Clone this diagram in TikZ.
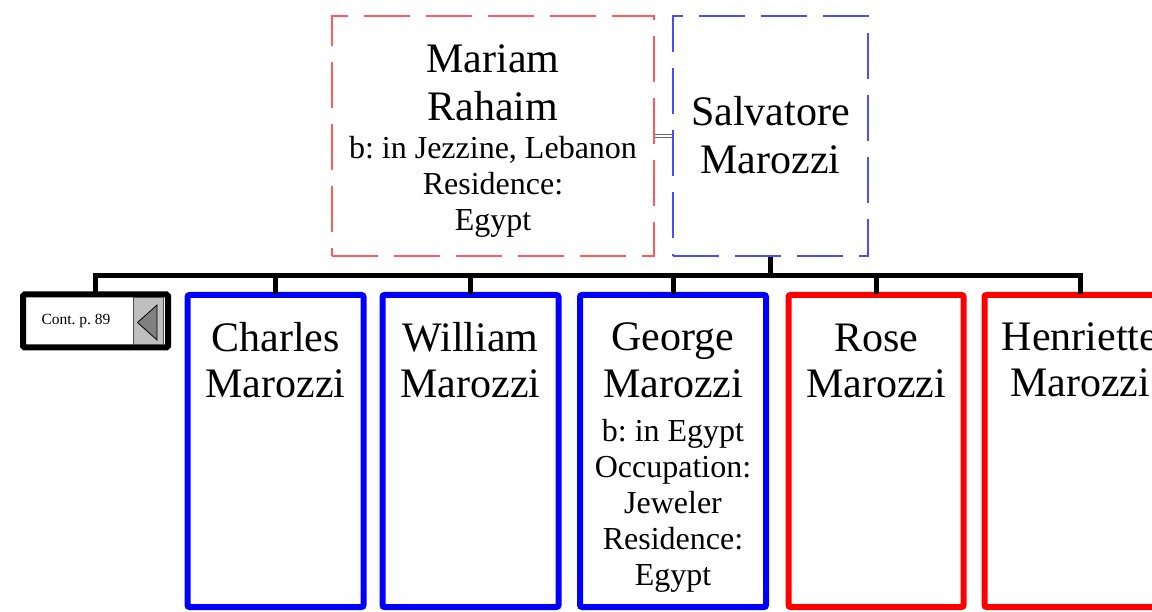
\documentclass[tikz,border=0pt]{standalone}
\usepackage{fontspec}
\setmainfont{Liberation Serif}
\frenchspacing
\newcommand{\detfont}{\fontsize{32}{36}\selectfont}
\begin{document}
\begin{tikzpicture}[x=1pt,y=-1pt,
  spousebox/.style={draw, line width=1.3pt, dash pattern=on 46pt off 16pt, rectangle, inner sep=0pt},
  childbox/.style={draw, line width=6pt, rectangle, rounded corners=2pt, inner sep=0pt, minimum height=312pt},
  boy/.style={childbox, draw=blue},
  girl/.style={childbox, draw=red},
  nametext/.style={font=\fontsize{42}{36}\selectfont, align=center, inner sep=0pt},
  conn/.style={line width=5pt, black, line cap=rect},
  marr/.style={draw=gray!80!black, double=white, double distance=2.2pt, line width=1.1pt}
]
\useasboundingbox (0,0) rectangle (1152,612);
\clip (0,0) rectangle (1152,612);
% parents
\node[spousebox, draw=red!65, minimum width=322pt, minimum height=240pt] (mariam) at (493,136) {};
\node[spousebox, draw=blue!70, minimum width=195pt, minimum height=240pt] (salv) at (770.5,136) {};
\node[nametext] (mariamT) at (493,141) {Mariam\\[12pt]Rahaim\\[2pt]\detfont b: in Jezzine, Lebanon\\\detfont Residence:\\\detfont Egypt};
\node[nametext] (salvT) at (770.5,135) {Salvatore\\[12pt]Marozzi};
\draw[marr] (mariam.east) -- (salv.west);
% children boxes
\node[draw=black, line width=6pt, rectangle, rounded corners=1.5pt, minimum width=145pt, minimum height=53pt, inner sep=0pt] (cont) at (95.5,321) {};
\node[boy, minimum width=176pt] (charles) at (275.5,451) {};
\node[boy, minimum width=176pt] (william) at (470.5,451) {};
\node[boy, minimum width=186pt] (george) at (673,451) {};
\node[girl, minimum width=175pt] (rose) at (876,451) {};
\node[girl, minimum width=191pt] (henri) at (1080,451) {};
% cont box contents
\node[draw=black!70, fill=black!25, line width=0.8pt, minimum width=30pt, minimum height=47pt, inner sep=0pt] (contarr) at (148.5,321) {};
\node[font=\fontsize{15.5}{18}\selectfont, inner sep=0pt] (contT) at (76,321) {Cont. p. 89};
\filldraw[fill=black!50, draw=black, line width=0.8pt] (137.5,322.5) -- (157,305) -- (157,340) -- cycle;
% names
\node[nametext, anchor=north] (charlesT) at (275.5,322) {Charles\\[10pt]Marozzi};
\node[nametext, anchor=north] (williamT) at (470.5,322) {William\\[10pt]Marozzi};
\node[nametext, anchor=north] (georgeT) at (673,322) {George\\[10pt]Marozzi\\[8pt]\detfont b: in Egypt\\\detfont Occupation:\\\detfont Jeweler\\\detfont Residence:\\\detfont Egypt};
\node[nametext, anchor=north] (roseT) at (876,324) {Rose\\[10pt]Marozzi};
\node[nametext, anchor=north] (henriT) at (1080,322) {Henriette\\[10pt]Marozzi};
% connectors
\coordinate (bar) at (770.5,275.5);
\draw[conn, line cap=butt] (salv.south) -- (bar);
\draw[conn] (bar) -| (cont.north);
\draw[conn] (bar) -| (charles.north);
\draw[conn] (bar) -| (william.north);
\draw[conn] (bar) -| (george.north);
\draw[conn] (bar) -| (rose.north);
\draw[conn] (bar) -| (henri.north);
\end{tikzpicture}
\end{document}
